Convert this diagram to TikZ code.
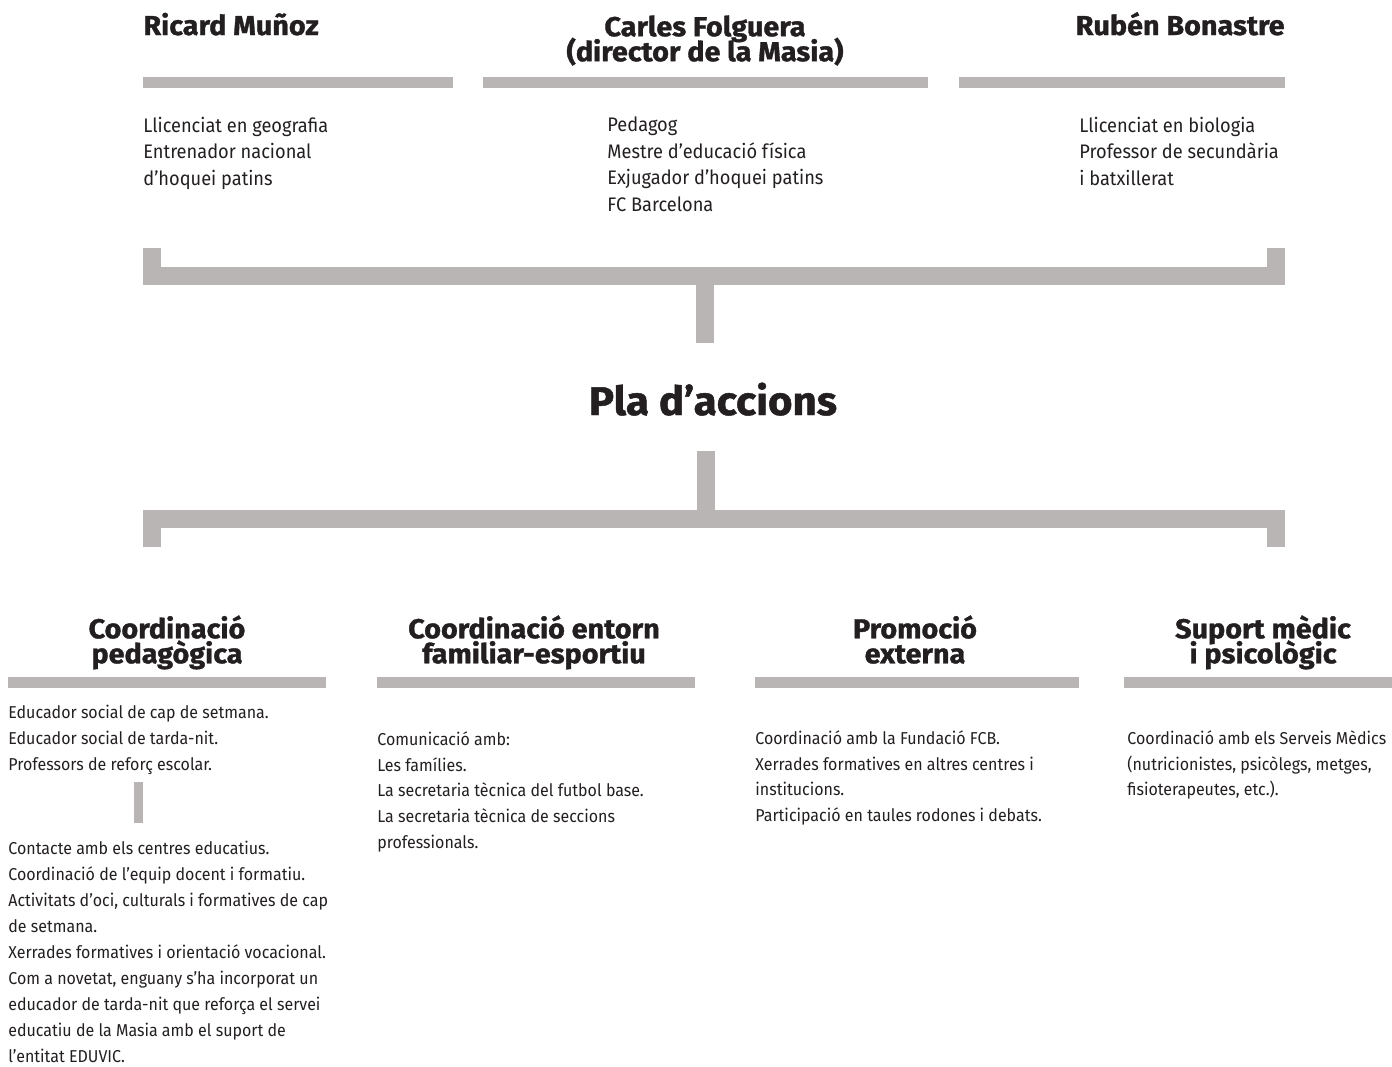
\documentclass[tikz,border=0pt]{standalone}
\usepackage{fontspec}
\setmainfont{Fira Sans}
\newfontfamily\narrow{Fira Sans}[FakeStretch=0.93]
\newfontfamily\heavy{Fira Sans}[FakeStretch=1.05, BoldFeatures={FakeBold=1.2}]
\newcommand\tightlines{\lineskiplimit-20pt\relax}

\definecolor{barc}{HTML}{B8B5B4}
\definecolor{ink}{HTML}{231F20}

\tikzset{
	head/.style={font=\heavy\fontsize{13.7}{12.5}\selectfont\bfseries\tightlines, text=ink, inner sep=0pt, align=center},
	desc/.style={font=\narrow\fontsize{9.8}{13.25}\selectfont, text=ink, inner sep=0pt, align=left, anchor=north west},
	small/.style={font=\narrow\fontsize{8.6}{12.95}\selectfont, text=ink, inner sep=0pt, align=left, anchor=north west},
	bar/.style={barc, line width=5.5pt},
	link/.style={barc, line width=9pt, line join=miter}
}

\begin{document}
\begin{tikzpicture}[x=0.5pt,y=-0.5pt]
		\useasboundingbox (0,0) rectangle (1392,1066);
		% top row: the three people
		\node[head, anchor=base west] (ricard) at (143,35) {Ricard Muñoz};
		\node[head, anchor=north] (carles) at (705,15) {Carles Folguera\\(director de la Masia)};
		\node[head, anchor=base east] (ruben) at (1285,35) {Rubén Bonastre};
		\draw[bar] (143,82.5) -- (453,82.5);
		\draw[bar] (483,82.5) -- (928,82.5);
		\draw[bar] (959,82.5) -- (1285,82.5);
		\node[desc] (ricardtxt) at (143,116.5) {Llicenciat en geografia\\Entrenador nacional\\d’hoquei patins};
		\node[desc] (carlestxt) at (607,116.5) {Pedagog\\Mestre d’educació física\\Exjugador d’hoquei patins\\FC Barcelona};
		\node[desc] (rubentxt) at (1079,116.5) {Llicenciat en biologia\\Professor de secundària\\i batxillerat};
		% upper bracket
		\coordinate (upl) at (152,248);
		\coordinate (upr) at (1276,248);
		\coordinate (ups) at (705,343);
		\draw[link] (upl) -- (upl |- 0,276) -- (upr |- 0,276) -- (upr);
		\draw[link] (ups |- 0,276) -- (ups);
		\node[font=\heavy\fontsize{20}{20}\selectfont\bfseries, text=ink, inner sep=0pt, anchor=base] (pla) at (713,415) {Pla d’accions};
		% lower bracket
		\coordinate (lol) at (152,547);
		\coordinate (lor) at (1276,547);
		\coordinate (los) at (706,451);
		\draw[link] (los) -- (los |- 0,518.5);
		\draw[link] (lol) -- (lol |- 0,518.5) -- (lor |- 0,518.5) -- (lor);
		% the four areas
		\node[head, anchor=north] (coord) at (167,615) {Coordinació\\pedagògica};
		\node[head, anchor=north] (entorn) at (534,615) {Coordinació entorn\\familiar-esportiu};
		\node[head, anchor=north] (promo) at (915,615) {Promoció\\externa};
		\node[head, anchor=north] (suport) at (1263,615) {Suport mèdic\\i psicològic};
		\draw[bar] (8,682.5) -- (326,682.5);
		\draw[bar] (377,682.5) -- (695,682.5);
		\draw[bar] (755,682.5) -- (1079,682.5);
		\draw[bar] (1124,682.5) -- (1392,682.5);
		\node[small] (coordtxt) at (8,705) {Educador social de cap de setmana.\\Educador social de tarda-nit.\\Professors de reforç escolar.};
		\coordinate (cut) at (138.5,782);
		\draw[barc, line width=4.5pt] (cut) -- ++(0,41);
		\node[small] (coordmore) at (8,841) {Contacte amb els centres educatius.\\Coordinació de l’equip docent i formatiu.\\Activitats d’oci, culturals i formatives de cap\\de setmana.\\Xerrades formatives i orientació vocacional.\\Com a novetat, enguany s’ha incorporat un\\educador de tarda-nit que reforça el servei\\educatiu de la Masia amb el suport de\\l’entitat EDUVIC.};
		\node[small] (entorntxt) at (377,731) {Comunicació amb:\\Les famílies.\\La secretaria tècnica del futbol base.\\La secretaria tècnica de seccions\\professionals.};
		\node[small] (promotxt) at (755,730) {Coordinació amb la Fundació FCB.\\Xerrades formatives en altres centres i\\institucions.\\Participació en taules rodones i debats.};
		\node[small] (suporttxt) at (1127,730) {Coordinació amb els Serveis Mèdics\\(nutricionistes, psicòlegs, metges,\\fisioterapeutes, etc.).};
	\end{tikzpicture}
\end{document}
